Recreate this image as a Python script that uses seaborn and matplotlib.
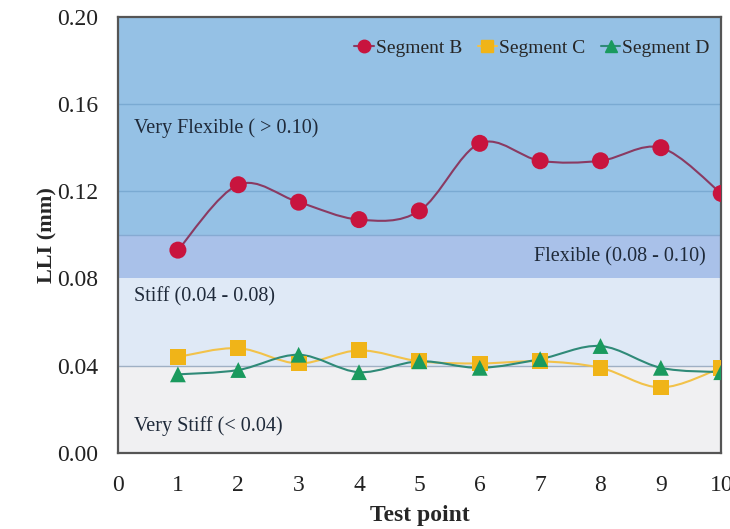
import numpy as np
import pandas as pd
import matplotlib
matplotlib.use("Agg")
import matplotlib.pyplot as plt
import seaborn as sns
from matplotlib.path import Path
from matplotlib.patches import PathPatch
from matplotlib.lines import Line2D

test_points = [1, 2, 3, 4, 5, 6, 7, 8, 9, 10]
seg_b = [0.093, 0.123, 0.115, 0.107, 0.111, 0.142, 0.134, 0.134, 0.140, 0.119]
seg_c = [0.044, 0.048, 0.041, 0.047, 0.042, 0.041, 0.042, 0.039, 0.030, 0.039]
seg_d = [0.036, 0.038, 0.045, 0.037, 0.042, 0.039, 0.043, 0.049, 0.039, 0.037]
series_names = ["Segment B", "Segment C", "Segment D"]
y_ticks = [0.00, 0.04, 0.08, 0.12, 0.16, 0.20]
x_ticks = list(range(0, 11))
band_edges = [0.0, 0.04, 0.08, 0.10, 0.20]
band_labels = ["Very Stiff (< 0.04)", "Stiff (0.04 - 0.08)", "Flexible (0.08 - 0.10)", "Very Flexible ( > 0.10)"]

sns.set_theme(style="white")
plt.rcParams['font.family'] = ['Liberation Serif', 'DejaVu Serif']

df = pd.DataFrame({
    "Test point": test_points * 3,
    "LLI": seg_b + seg_c + seg_d,
    "Series": [series_names[0]] * 10 + [series_names[1]] * 10 + [series_names[2]] * 10,
})

fig = plt.figure(figsize=(7.3, 5.29), dpi=100)
ax = fig.add_axes([0.161, 0.144, 0.827, 0.824])

band_colors = ["#f0f0f2", "#dfe9f6", "#a9c1e9", "#95c1e5"]
for i, c in enumerate(band_colors):
    ax.axhspan(band_edges[i], band_edges[i + 1], color=c, zorder=0, lw=0)
for yv, col in [(0.04, "#9fb0c4"), (0.10, "#86aad2"), (0.12, "#7aaad2"), (0.16, "#7aaad2")]:
    ax.axhline(yv, color=col, lw=1.0, zorder=0.5)

def smooth_path(xs, ys):
    pts = np.column_stack([xs, ys]).astype(float)
    n = len(pts)
    verts = [pts[0]]
    codes = [Path.MOVETO]
    for i in range(n - 1):
        p0 = pts[i - 1] if i > 0 else pts[i]
        p1 = pts[i]
        p2 = pts[i + 1]
        p3 = pts[i + 2] if i + 2 < n else pts[i + 1]
        c1 = p1 + (p2 - p0) / 6.0
        c2 = p2 - (p3 - p1) / 6.0
        verts += [c1, c2, p2]
        codes += [Path.CURVE4] * 3
    return Path(verts, codes)

line_colors = {"Segment B": "#8a3a62", "Segment C": "#f2c24a", "Segment D": "#2f8a78"}
marker_colors = {"Segment B": "#c8143e", "Segment C": "#f0b418", "Segment D": "#1a9a5e"}
markers = {"Segment B": "o", "Segment C": "s", "Segment D": "^"}
sizes = {"Segment B": 150, "Segment C": 130, "Segment D": 130}

for name in series_names:
    sub = df[df["Series"] == name]
    p = smooth_path(sub["Test point"].values, sub["LLI"].values)
    ax.add_patch(PathPatch(p, facecolor="none", edgecolor=line_colors[name], lw=1.5, zorder=2))

order_plot = ["Segment C", "Segment D", "Segment B"]
for name in order_plot:
    sub = df[df["Series"] == name]
    sns.scatterplot(data=sub, x="Test point", y="LLI", marker=markers[name],
                    color=marker_colors[name], s=sizes[name], edgecolor="none",
                    ax=ax, zorder=3, legend=False)

txt_kw = dict(fontsize=14.5, color="#1f2a3a", va="center")
ax.text(0.28, 0.149, band_labels[3], ha="left", **txt_kw)
ax.text(9.75, 0.090, band_labels[2], ha="right", **txt_kw)
ax.text(0.28, 0.0715, band_labels[1], ha="left", **txt_kw)
ax.text(0.28, 0.0125, band_labels[0], ha="left", **txt_kw)

ax.set_xlim(0, 10)
ax.set_ylim(0, 0.20)
ax.set_xticks(x_ticks)
ax.set_yticks(y_ticks)
ax.set_xticklabels([str(v) for v in x_ticks], fontsize=17)
ax.set_yticklabels([f"{v:.2f}" for v in y_ticks], fontsize=17)
ax.tick_params(axis="x", pad=16, length=0, colors="#222222")
ax.tick_params(axis="y", pad=14, length=0, colors="#222222")
ax.set_xlabel("Test point", fontsize=17, fontweight="bold")
ax.xaxis.set_label_coords(0.5, -0.12)
ax.set_ylabel("LLI (mm)", fontsize=16, fontweight="bold")
ax.yaxis.set_label_coords(-0.1, 0.5)
for s in ax.spines.values():
    s.set_color("#555555")
    s.set_linewidth(1.6)

handles = [Line2D([0], [0], color=line_colors[n], marker=markers[n], markersize=9 if n == "Segment B" else 8,
                  markerfacecolor=marker_colors[n], markeredgecolor=marker_colors[n], lw=1.5) for n in series_names]
leg = ax.legend(handles, series_names, loc="upper right", ncol=3, frameon=False, fontsize=14,
                handlelength=1.0, handletextpad=0.1, columnspacing=0.8, borderaxespad=0.2,
                bbox_to_anchor=(1.0, 0.975))

fig.savefig("out.png", dpi=100)
